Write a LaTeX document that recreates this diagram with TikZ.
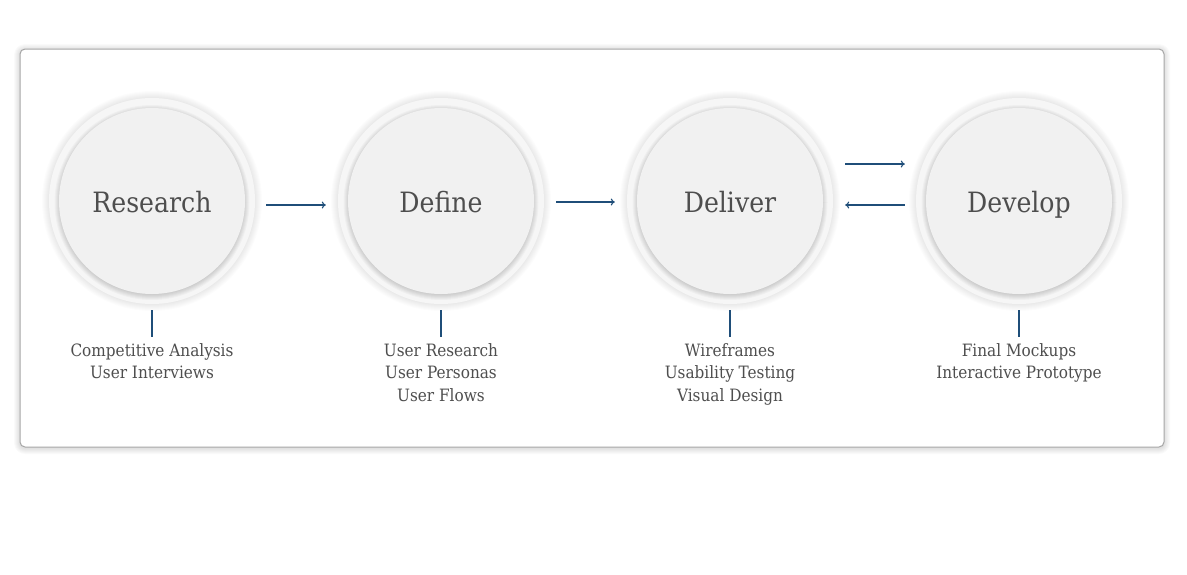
\documentclass[tikz,border=0pt]{standalone}
\usepackage{fontspec}
\setmainfont{DejaVu Serif Condensed}
\usetikzlibrary{positioning,arrows.meta}
\definecolor{ringgray}{RGB}{246,246,246}
\definecolor{coregray}{RGB}{241,241,241}
\definecolor{textgray}{RGB}{78,78,78}
\definecolor{flowblue}{RGB}{31,78,121}
\tikzset{
	ring/.style={circle, minimum size=206, inner sep=0, fill=ringgray},
	core/.style={circle, minimum size=186, inner sep=0, fill=coregray, text=textgray, text height=26, text depth=4, font=\fontsize{28}{34}\selectfont},
	sublabel/.style={inner sep=0, align=center, text=textgray, font=\fontsize{17}{22.5}\selectfont},
	flow/.style={-{To[length=4, width=7]}, flowblue, line width=1.1},
	stem/.style={flowblue, line width=1.8},
}
\def\softdisc(#1,#2)#3{\foreach \k in {1,...,7}{\fill[black, opacity=0.013] (#1,#2) circle ({#3+\k});}}
\def\coreshade(#1,#2){\foreach \k in {0,...,5}{\fill[black, opacity=0.028] (#1,#2+1.5) circle ({92.5+\k});}}

\begin{document}
\begin{tikzpicture}[x=1pt, y=-1pt]
			\useasboundingbox (0,0) rectangle (1187,574);
			\fill[white] (0,0) rectangle (1187,574);
			
			%%%%% FRAME %%%%%
			\foreach \k in {1,...,6}{\fill[black, opacity=0.02, rounded corners=5+\k] (20-\k,49-\k+1) rectangle (1164+\k,447+\k+1);}
			\draw[fill=white, draw=black!35, line width=1, rounded corners=5] (20,49) rectangle (1164,447);
			
			%%%%% RINGS %%%%%
			\softdisc(152,201){103}
			\softdisc(441,201){103}
			\softdisc(730,201){103}
			\softdisc(1019,201){103}
			
			\node[ring] (researchring) at (152,201) {};
			\node[ring] (definering) at (441,201) {};
			\node[ring] (deliverring) at (730,201) {};
			\node[ring] (developring) at (1019,201) {};
			
			\coreshade(152,201)
			\coreshade(441,201)
			\coreshade(730,201)
			\coreshade(1019,201)
			
			\node[core] (research) at (researchring) {Research};
			\node[core] (define) at (definering) {Define};
			\node[core] (deliver) at (deliverring) {Deliver};
			\node[core] (develop) at (developring) {Develop};
			
			%%%%% LABELS %%%%%
			\node[sublabel, below=39pt of researchring] (researchlabel) {Competitive Analysis\\User Interviews};
			\node[sublabel, below=39pt of definering] (definelabel) {User Research\\User Personas\\User Flows};
			\node[sublabel, below=39pt of deliverring] (deliverlabel) {Wireframes\\Usability Testing\\Visual Design};
			\node[sublabel, below=39pt of developring] (developlabel) {Final Mockups\\Interactive Prototype};
			
			\draw[stem] ([yshift=-6]researchring.south) -- ([yshift=6]researchlabel.north);
			\draw[stem] ([yshift=-6]definering.south) -- ([yshift=6]definelabel.north);
			\draw[stem] ([yshift=-6]deliverring.south) -- ([yshift=6]deliverlabel.north);
			\draw[stem] ([yshift=-6]developring.south) -- ([yshift=6]developlabel.north);
			
			%%%%% ARROWS %%%%%
			\draw[flow, shorten <=11, shorten >=12] ([yshift=-4]researchring.east) -- ([yshift=-4]definering.west);
			\draw[flow, shorten <=12, shorten >=12] ([yshift=-1]definering.east) -- ([yshift=-1]deliverring.west);
			\draw[flow, shorten <=12, shorten >=11] ([yshift=37]deliverring.east) -- ([yshift=37]developring.west);
			\draw[flow, shorten <=11, shorten >=12] ([yshift=-4]developring.west) -- ([yshift=-4]deliverring.east);
			
\end{tikzpicture}
\end{document}
